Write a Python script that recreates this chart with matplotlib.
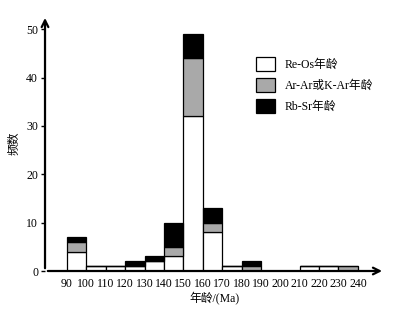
import matplotlib
matplotlib.use("Agg")
import matplotlib.pyplot as plt
from matplotlib.patches import Patch

plt.rcParams['font.family'] = ['Liberation Serif', 'Noto Sans CJK SC']

bin_starts = [90, 100, 110, 120, 130, 140, 150, 160, 170, 180, 190, 200, 210, 220, 230]
re_os = [4, 1, 1, 1, 2, 3, 32, 8, 1, 0, 0, 0, 1, 1, 0]
ar_ar = [2, 0, 0, 0, 0, 2, 12, 2, 0, 1, 0, 0, 0, 0, 1]
rb_sr = [1, 0, 0, 1, 1, 5, 5, 3, 0, 1, 0, 0, 0, 0, 0]
x_ticks = [90, 100, 110, 120, 130, 140, 150, 160, 170, 180, 190, 200, 210, 220, 230, 240]
y_ticks = [0, 10, 20, 30, 40, 50]
labels = ['Re-Os年龄', 'Ar-Ar或K-Ar年龄', 'Rb-Sr年龄']
colors = ['white', '#a9a9a9', 'black']

fig = plt.figure(figsize=(4.07, 3.12), dpi=100)
ax = fig.add_axes([0.1106, 0.1314, 0.835, 0.82])

bottom2 = [a + b for a, b in zip(re_os, ar_ar)]
kw = dict(width=10, align='edge', edgecolor='black', linewidth=0.9)
ax.bar(bin_starts, re_os, color=colors[0], **kw)
ax.bar(bin_starts, ar_ar, bottom=re_os, color=colors[1], **kw)
ax.bar(bin_starts, rb_sr, bottom=bottom2, color=colors[2], **kw)

ax.set_xlim(78.7, 253.9)
ax.set_ylim(0, 52.9)
for s in ax.spines.values():
    s.set_visible(False)
ax.annotate('', xy=(1.0, 0), xytext=(0, 0), xycoords='axes fraction',
            arrowprops=dict(arrowstyle='->', lw=1.6, color='black', mutation_scale=12))
ax.annotate('', xy=(0, 1.0), xytext=(0, 0), xycoords='axes fraction',
            arrowprops=dict(arrowstyle='->', lw=1.6, color='black', mutation_scale=12))

ax.set_xticks(x_ticks)
ax.set_xticklabels([str(t) for t in x_ticks], fontsize=8.5)
ax.set_yticks(y_ticks)
ax.set_yticklabels([str(t) for t in y_ticks], fontsize=8.5)
ax.tick_params(axis='x', length=0, pad=5)
ax.tick_params(axis='y', length=3, width=1, pad=2)

ax.set_xlabel('年龄/(Ma)', fontsize=8.5, labelpad=2)
ax.set_ylabel('频数', fontsize=8.5, labelpad=4)

handles = [Patch(facecolor=c, edgecolor='black', linewidth=0.9) for c in colors]
ax.legend(handles, labels, loc='upper left', bbox_to_anchor=(0.589, 0.877),
          frameon=False, fontsize=8.5, handlelength=1.6, handleheight=1.4,
          labelspacing=0.6, handletextpad=0.85)

fig.savefig('out.png', dpi=100)
